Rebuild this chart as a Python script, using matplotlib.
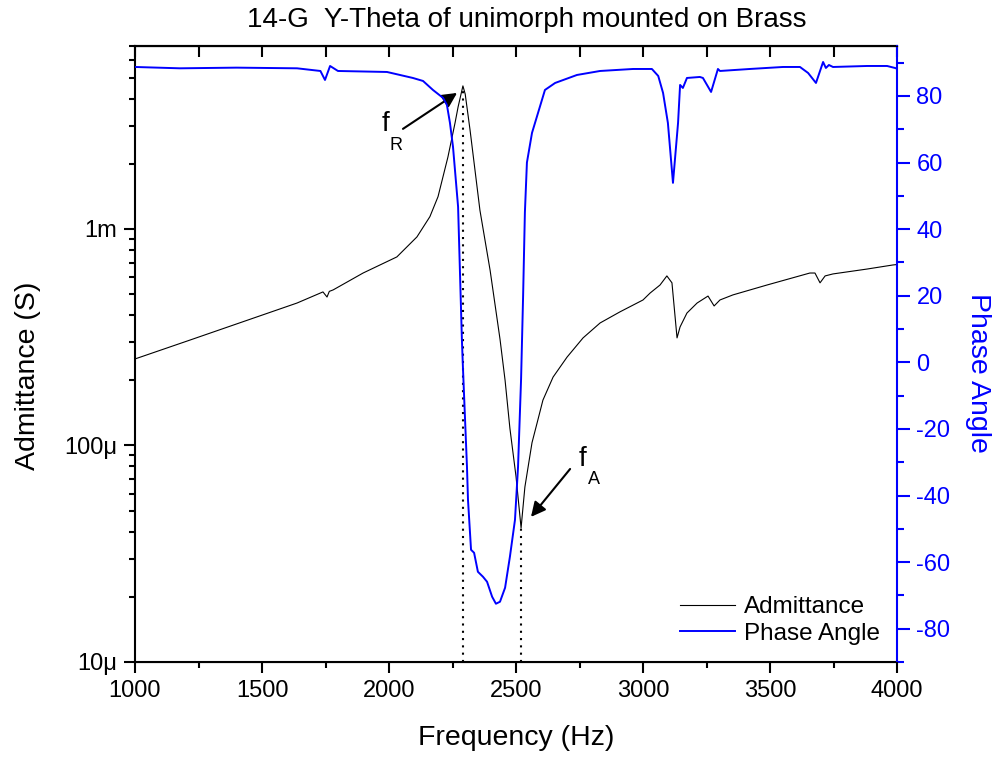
import matplotlib
matplotlib.use("Agg")
import matplotlib.pyplot as plt
from matplotlib.ticker import MultipleLocator, LogLocator, FixedLocator, FixedFormatter, NullFormatter
from matplotlib.lines import Line2D

plt.rcParams['font.family'] = ['Liberation Sans', 'DejaVu Sans']
plt.rcParams['axes.unicode_minus'] = False

# admittance |Y| (S) vs frequency (Hz)
freq_y = [1000, 1217, 1638, 1740, 1756, 1765, 1780, 1898, 2031, 2110, 2161,
          2193, 2232, 2260, 2272, 2291, 2300, 2319, 2358, 2398, 2437, 2457,
          2476, 2500, 2520, 2535, 2563, 2583, 2606, 2646, 2701, 2764, 2831,
          2909, 3000, 3028, 3067, 3094, 3114, 3134, 3146, 3173, 3213, 3256,
          3280, 3303, 3354, 3488, 3657, 3677, 3697, 3717, 3748, 3882, 3984,
          4000]
admittance = [2.51e-4, 3.07e-4, 4.55e-4, 5.12e-4, 4.85e-4, 5.15e-4, 5.23e-4,
              6.26e-4, 7.43e-4, 9.19e-4, 1.14e-3, 1.41e-3, 2.15e-3, 3.09e-3,
              3.66e-3, 4.58e-3, 4.2e-3, 2.87e-3, 1.22e-3, 6.45e-4, 3.1e-4,
              2.0e-4, 1.2e-4, 7.2e-5, 4.16e-5, 6.43e-5, 1.03e-4, 1.27e-4,
              1.62e-4, 2.07e-4, 2.56e-4, 3.14e-4, 3.68e-4, 4.14e-4, 4.70e-4,
              5.06e-4, 5.51e-4, 6.07e-4, 5.64e-4, 3.14e-4, 3.53e-4, 4.09e-4,
              4.55e-4, 4.90e-4, 4.41e-4, 4.70e-4, 4.96e-4, 5.51e-4, 6.26e-4,
              6.26e-4, 5.64e-4, 6.07e-4, 6.20e-4, 6.53e-4, 6.82e-4, 6.85e-4]

# phase angle (deg) vs frequency (Hz)
freq_p = [1000, 1177, 1400, 1638, 1730, 1748, 1768, 1799, 1992, 2094, 2134,
          2173, 2213, 2228, 2240, 2252, 2272, 2287, 2291, 2307, 2311, 2323,
          2335, 2350, 2370, 2386, 2406, 2421, 2437, 2457, 2476, 2496, 2508,
          2520, 2528, 2535, 2543, 2563, 2614, 2654, 2740, 2831, 2961, 3035,
          3060, 3079, 3098, 3118, 3138, 3146, 3157, 3173, 3224, 3236, 3268,
          3295, 3303, 3421, 3551, 3618, 3650, 3681, 3709, 3720, 3732, 3748,
          3882, 3961, 3992, 4000]
phase = [88.7, 88.3, 88.5, 88.3, 87.5, 84.8, 89.0, 87.5, 87.2, 85.4, 84.5,
         81.8, 79.4, 77.3, 71.9, 64.7, 46.7, 6.8, -1.4, -31.4, -41.3, -56.3,
         -57.2, -62.9, -64.4, -65.9, -70.4, -72.5, -71.9, -67.7, -58.4, -47.3,
         -31.4, -5.0, 20.0, 45.0, 60.0, 68.9, 81.8, 83.9, 86.3, 87.5, 88.1,
         88.1, 86.0, 80.9, 71.9, 53.9, 71.9, 83.3, 82.4, 85.4, 85.7, 85.4,
         81.2, 88.1, 87.5, 88.1, 88.7, 88.7, 86.9, 83.9, 90.2, 88.4, 89.3,
         88.7, 89.0, 89.0, 88.4, 88.2]

# resonance / antiresonance markers
f_res = 2291
y_res = 4.58e-3
f_anti = 2520
y_anti = 4.16e-5

y_ticks = [1e-5, 1e-4, 1e-3]
y_ticklabels = ["10μ", "100μ", "1m"]

fig = plt.figure(figsize=(9.95, 7.59), dpi=100)
ax = fig.add_axes([135 / 995, 1 - 662 / 759, 762 / 995, 616 / 759])
ax2 = ax.twinx()

ax.plot(freq_y, admittance, color="black", linewidth=0.8)
ax2.plot(freq_p, phase, color="blue", linewidth=1.4)

ax.plot([f_res, f_res], [1e-5, y_res], color="black", linestyle=(0, (1, 2.5)), linewidth=1.5)
ax.plot([f_anti, f_anti], [1e-5, y_anti], color="black", linestyle=(0, (1, 2.5)), linewidth=1.5)

ax.set_xlim(1000, 4000)
ax.set_yscale("log")
ax.set_ylim(1e-5, 7.0e-3)
ax2.set_ylim(-90, 95)

ax.xaxis.set_major_locator(MultipleLocator(500))
ax.xaxis.set_minor_locator(MultipleLocator(250))
ax.yaxis.set_major_locator(FixedLocator(y_ticks))
ax.yaxis.set_major_formatter(FixedFormatter(y_ticklabels))
ax.yaxis.set_minor_locator(LogLocator(base=10, subs=range(2, 10)))
ax.yaxis.set_minor_formatter(NullFormatter())
ax.tick_params(axis="both", which="major", direction="out", length=8, width=1.5,
               labelsize=17, pad=5)
ax.tick_params(axis="both", which="minor", direction="out", length=4, width=1.5)
ax.tick_params(axis="x", top=False)

top = ax.secondary_xaxis("top")
top.xaxis.set_major_locator(MultipleLocator(250))
top.tick_params(direction="in", length=8, width=1.5, labeltop=False)

ax2.yaxis.set_major_locator(MultipleLocator(20))
ax2.yaxis.set_minor_locator(MultipleLocator(10))
ax2.tick_params(axis="y", which="major", direction="out", length=9, width=1.5,
                labelsize=17, colors="blue", pad=5)
ax2.tick_params(axis="y", which="minor", direction="out", length=5, width=1.5,
                colors="blue")

for sp in ["left", "bottom", "top"]:
    ax.spines[sp].set_linewidth(1.5)
top.spines["top"].set_linewidth(1.5)
ax.spines["right"].set_visible(False)
ax2.spines["left"].set_visible(False)
ax2.spines["right"].set_color("blue")
ax2.spines["right"].set_linewidth(1.5)

ax.set_xlabel("Frequency (Hz)", fontsize=20.5, va="center")
ax.xaxis.set_label_coords(0.5, (662 - 738) / 616)
ax.set_ylabel("Admittance (S)", fontsize=20.5, va="center", ha="center")
ax.yaxis.set_label_coords((28 - 135) / 762, (662 - 376) / 616)
ax2.set_ylabel("Phase Angle", fontsize=20.5, color="blue", rotation=270,
               va="center", ha="center")
ax2.yaxis.set_label_coords(1 + (978 - 897) / 762, (662 - 373) / 616)
fig.text(527 / 995, 1 - 20 / 759, "14-G  Y-Theta of unimorph mounted on Brass",
         fontsize=20, ha="center", va="center")

# annotations for f_R and f_A
arrow = dict(arrowstyle="-|>", color="black", lw=1.5, mutation_scale=22, shrinkA=0, shrinkB=0)
ax.annotate("", xy=(2268, 4.25e-3), xytext=(2055, 2.9e-3), arrowprops=arrow)
ax.annotate("", xy=(2559, 4.68e-5), xytext=(2713, 7.79e-5), arrowprops=arrow)
ax.text(1985, 3.05e-3, "f", fontsize=20, ha="center", va="center")
ax.text(2026, 2.42e-3, "R", fontsize=13, ha="center", va="center")
ax.text(2760, 8.7e-5, "f", fontsize=20, ha="center", va="center")
ax.text(2806, 7.0e-5, "A", fontsize=13, ha="center", va="center")

handles = [Line2D([], [], color="black", linewidth=0.8),
           Line2D([], [], color="blue", linewidth=1.4)]
ax2.legend(handles, ["Admittance", "Phase Angle"], loc="lower right",
           frameon=False, fontsize=17.5, handlelength=2.3, handletextpad=0.35,
           labelspacing=0.2, borderaxespad=0.3)

fig.savefig("out.png", dpi=100)
